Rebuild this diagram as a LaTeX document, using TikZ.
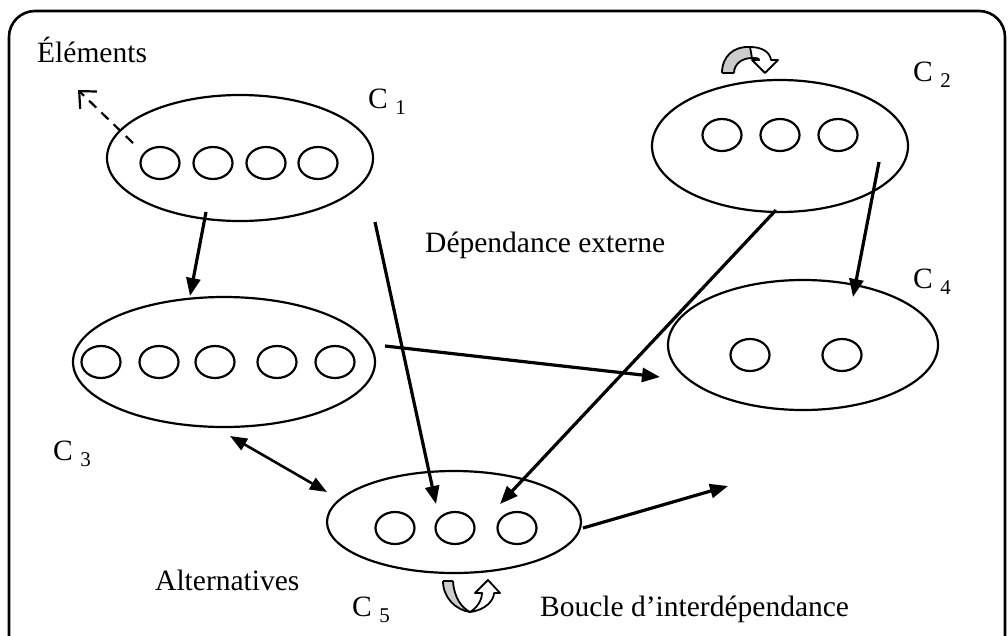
\documentclass[tikz,border=0pt]{standalone}
\usepackage{fontspec}
\setmainfont{Liberation Serif}
\usetikzlibrary{shapes.geometric,arrows.meta,calc}
% component label: "C" followed by a lowered index
\newcommand\complabel[1]{C {\fontsize{21}{21}\selectfont\raisebox{-6pt}{#1}}}
\begin{document}
\begin{tikzpicture}[x=1pt,y=-1pt,
  grp/.style={ellipse,draw,line width=2.2pt,inner sep=0pt},
  elt/.style={ellipse,draw,line width=2.2pt,minimum width=39pt,minimum height=32pt,inner sep=0pt},
  arr/.style={line width=3.2pt,-{Triangle[length=18pt,width=14pt]}},
  darr/.style={line width=2.6pt,{Triangle[length=17pt,width=13pt]}-{Triangle[length=17pt,width=13pt]}},
  dasharr/.style={line width=2.2pt,dash pattern=on 10pt off 7pt,-{Straight Barb[length=13pt,width=24pt,line width=2.2pt]}},
  lbl/.style={inner sep=0pt,anchor=base west,font=\fontsize{29.5}{35}\selectfont},
  band/.style={line width=1.8pt,line join=round},
]
\useasboundingbox (0,0) rectangle (1008,635);
\clip (0,0) rectangle (1008,635);

% outer frame
\draw[line width=2.6pt,rounded corners=26pt] (9,11) rectangle (1005,665);

% components
\node[grp,minimum width=266pt,minimum height=126pt] (c1) at (240,158) {};
\node[grp,minimum width=256pt,minimum height=132pt] (c2) at (780,146) {};
\node[grp,minimum width=302pt,minimum height=130pt] (c3) at (224,362) {};
\node[grp,minimum width=270pt,minimum height=130pt] (c4) at (803,345) {};
\node[grp,minimum width=254pt,minimum height=102pt] (c5) at (454,522) {};

% elements inside each component
\foreach \x [count=\i] in {160,213,266,318} \node[elt] (c1e\i) at (\x,163) {};
\foreach \x [count=\i] in {722,780,838} \node[elt] (c2e\i) at (\x,135) {};
\foreach \x [count=\i] in {101,159,215,277,335} \node[elt] (c3e\i) at (\x,362) {};
\foreach \x [count=\i] in {750,842} \node[elt] (c4e\i) at (\x,355) {};
\foreach \x [count=\i] in {395,455,517} \node[elt] (c5e\i) at (\x,528) {};

% labels
\node[lbl] (lelem) at (37,62) {Éléments};
\node[lbl] (l1) at (368,108) {\complabel{1}};
\node[lbl] (l2) at (913,81) {\complabel{2}};
\node[lbl] (l4) at (913,288) {\complabel{4}};
\node[lbl] (l3) at (53,460) {\complabel{3}};
\node[lbl] (l5) at (352,616) {\complabel{5}};
\node[lbl] (ldep) at (425,252) {Dépendance externe};
\node[lbl] (lalt) at (155,590) {Alternatives};
\node[lbl] (lbou) at (540,616) {Boucle d’interdépendance};

% dependencies
\draw[arr] ([shift={(-34,54)}]c1.center) -- ([shift={(-34,-66)}]c3.center);
\draw[arr] ([shift={(135,64)}]c1.center) -- ([shift={(-18,-18)}]c5.center);
\draw[arr] ([shift={(-4,64)}]c2.center) -- ([shift={(46,-18)}]c5.center);
\draw[arr] ([shift={(99,16)}]c2.center) -- ([shift={(50,-48)}]c4.center);
\draw[arr] ([shift={(161,-16)}]c3.center) -- ([shift={(-143,32)}]c4.center);
\draw[arr] ([shift={(129,6)}]c5.center) -- ([shift={(-75,141)}]c4.center);
\draw[darr] ([shift={(6,74)}]c3.center) -- ([shift={(-127,-30)}]c5.center);

% elements pointer
\coordinate (elemtip) at (78,90);
\draw[dasharr] ([shift={(-107,-15)}]c1.center) -- (elemtip);

% self loop above C2: grey back face, white front face with block head
\fill[gray!40] (722,73) .. controls (722,56) and (734,46) .. (750,47)
  -- (752,58) .. controls (742,58) and (734,64) .. (734,73) -- cycle;
\draw[band] (722,73) .. controls (722,56) and (734,46) .. (750,47);
\draw[band] (734,73) .. controls (734,64) and (742,58) .. (752,58);
\draw[band] (722,73) -- (734,73);
\draw[band,fill=white] (750,47) .. controls (762,47) and (770,52) .. (771,60)
  -- (778,60) -- (765,73) -- (752,60) -- (759,60)
  .. controls (759,58) and (756,58) .. (752,58) -- cycle;

% interdependence loop below C5
\fill[gray!40] (443,581) -- (453,581) .. controls (454,598) and (462,608) .. (470,612)
  .. controls (456,610) and (443,598) .. (443,581) -- cycle;
\draw[band] (443,581) .. controls (443,598) and (456,610) .. (470,612);
\draw[band] (453,581) .. controls (454,598) and (462,608) .. (470,612);
\draw[band] (443,581) -- (453,581);
\draw[band,fill=white] (470,612) .. controls (486,610) and (494,600) .. (494,593)
  -- (500,593) -- (488,580) -- (475,593) -- (482,593)
  .. controls (482,600) and (477,608) .. (470,612) -- cycle;
\end{tikzpicture}
\end{document}
